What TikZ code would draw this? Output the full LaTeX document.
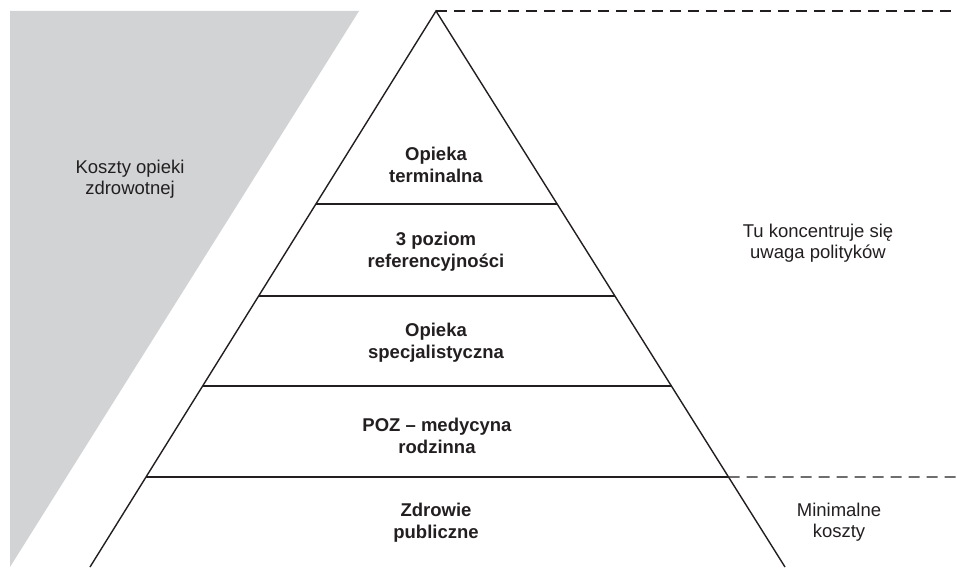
\documentclass[tikz,border=0pt]{standalone}
\usepackage{fontspec}
\setmainfont{Liberation Sans}
\usetikzlibrary{calc}
\definecolor{txt}{HTML}{231F20}
\definecolor{greyfill}{HTML}{D1D3D4}
\tikzset{
  edge/.style={draw=txt, line width=1.4pt},
  dashline/.style={draw=txt, line width=1.4pt, dash pattern=on 11pt off 7pt},
  levellabel/.style={align=center, font=\fontsize{18.5}{22}\selectfont\bfseries, text=txt, inner sep=0pt},
  sidelabel/.style={align=center, font=\fontsize{18.5}{21}\selectfont, text=txt, inner sep=0pt}
}
\begin{document}
\begin{tikzpicture}[x=1pt,y=-1pt]
\useasboundingbox (0,0) rectangle (957,567);
% grey cost wedge
\fill[greyfill] (10,11) -- (359,11) -- (10,567) -- cycle;
% pyramid corners
\coordinate (apex) at (436,11);
\coordinate (bl) at (90,567);
\coordinate (br) at (785,567);
\coordinate (topend) at (957,11);
\coordinate (lowend) at (957,477);
% level boundaries
\coordinate (l1) at ($(apex)!0.3471!(bl)$);
\coordinate (r1) at ($(apex)!0.3471!(br)$);
\coordinate (l2) at ($(apex)!0.5126!(bl)$);
\coordinate (r2) at ($(apex)!0.5126!(br)$);
\coordinate (l3) at ($(apex)!0.6745!(bl)$);
\coordinate (r3) at ($(apex)!0.6745!(br)$);
\coordinate (l4) at ($(apex)!0.8381!(bl)$);
\coordinate (r4) at ($(apex)!0.8381!(br)$);
\draw[edge] (bl) -- (apex) -- (br);
\draw[edge] (l1) -- (r1);
\draw[edge] (l2) -- (r2);
\draw[edge] (l3) -- (r3);
\draw[edge] (l4) -- (r4);
\draw[dashline] (apex) -- (topend);
\draw[dashline] (r4) -- (lowend);
% labels
\node[levellabel] (t1) at (436,165) {Opieka\\terminalna};
\node[levellabel] (t2) at (436,252) {3 poziom\\referencyjności};
\node[levellabel] (t3) at (436,343) {Opieka\\specjalistyczna};
\node[levellabel] (t4) at (437,436) {POZ – medycyna\\rodzinna};
\node[levellabel] (t5) at (436,523) {Zdrowie\\publiczne};
\node[sidelabel] (koszty) at (130,179) {Koszty opieki\\zdrowotnej};
\node[sidelabel] (uwaga) at (818,243) {Tu koncentruje się\\uwaga polityków};
\node[sidelabel] (minimal) at (839,522) {Minimalne\\koszty};
\end{tikzpicture}
\end{document}
